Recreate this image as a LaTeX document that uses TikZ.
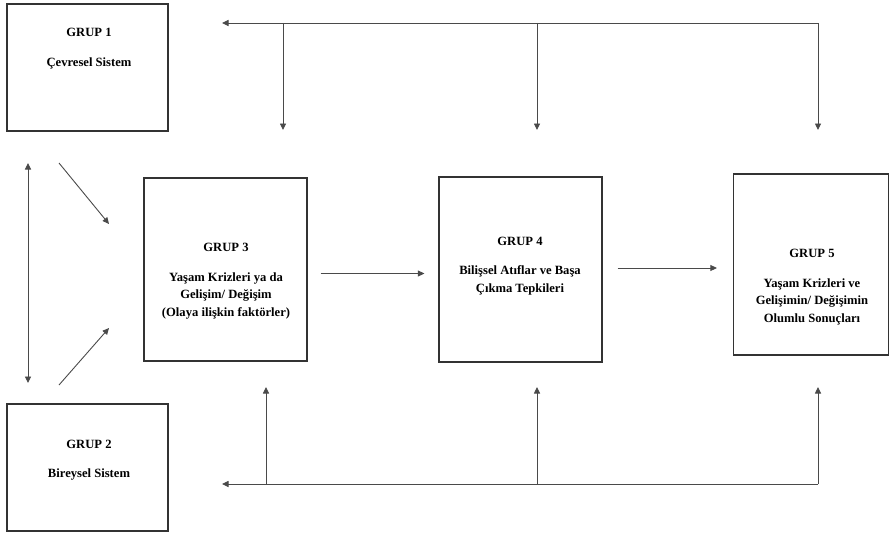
\documentclass[tikz,border=0pt]{standalone}
\usepackage{fontspec}
\setmainfont{Liberation Serif}
\usetikzlibrary{arrows.meta,positioning}
\definecolor{boxline}{HTML}{333333}
\definecolor{wire}{HTML}{4A4A4A}
\tikzset{grup/.style={draw=boxline,line width=1.2pt,inner sep=0pt},
  lbl/.style={align=center,font=\fontsize{12.6}{17.5}\selectfont\bfseries},
  wirearr/.style={draw=wire,line width=0.9pt,->}}

\begin{document}
\begin{tikzpicture}[x=1pt,y=-1pt,>={Triangle[length=6.5pt,width=6pt]}]
\useasboundingbox (0,0) rectangle (890,532);
% kutular
\node[grup,minimum width=161pt,minimum height=127pt] (g1) at (87.5,67.5) {};
\node[grup,minimum width=161pt,minimum height=127pt] (g2) at (87.5,467.5) {};
\node[grup,minimum width=163pt,minimum height=183pt] (g3) at (225.5,269.5) {};
\node[grup,minimum width=163pt,minimum height=185pt] (g4) at (520.5,269.5) {};
\node[grup,minimum width=155pt,minimum height=181pt] (g5) at (811,264.5) {};
\node[lbl] (t1) at (89,48.5) {GRUP 1\\[12pt]Çevresel Sistem};
\node[lbl] (t2) at (89,460) {GRUP 2\\[12pt]Bireysel Sistem};
\node[lbl] (t3) at (226,281) {GRUP 3\\[12pt]Yaşam Krizleri ya da\\Gelişim/ Değişim\\(Olaya ilişkin faktörler)};
\node[lbl] (t4) at (520,266) {GRUP 4\\[12pt]Bilişsel Atıflar ve Başa\\Çıkma Tepkileri};
\node[lbl] (t5) at (812,287) {GRUP 5\\[12pt]Yaşam Krizleri ve\\Gelişimin/ Değişimin\\Olumlu Sonuçları};
% ana akis
\draw[wirearr,shorten <=13pt,shorten >=14pt] ([yshift=-4pt]g3.east) -- ([yshift=-4pt]g3.east -| g4.west);
\draw[wirearr,shorten <=15pt,shorten >=16pt] ([yshift=1.5pt]g4.east) -- ([yshift=1.5pt]g4.east -| g5.west);
% sol taraf
\coordinate (lu) at (28,163);\coordinate (ld) at (28,383);
\draw[wirearr,<->] (lu) -- (ld);
\coordinate (du) at (59,163);\coordinate (dd) at (59,385);
\draw[wirearr] (du) -- (109,224);
\draw[wirearr] (dd) -- (109,328);
% ust ve alt geri bildirim
\coordinate (tr) at (818,23);\coordinate (tl) at (222,23);
\coordinate (br) at (818,484);\coordinate (bl) at (222,484);
\draw[wirearr] (tr) -- (tl);
\draw[wirearr] (br) -- (bl);
\foreach \x/\xb in {283/266,537/537,818/818}{
\coordinate (up\x) at (\x,130);\coordinate (dn\xb) at (\xb,387);
\draw[wirearr] (\x,23) -- (up\x);
\draw[wirearr] (\xb,484) -- (dn\xb);}
\end{tikzpicture}
\end{document}
